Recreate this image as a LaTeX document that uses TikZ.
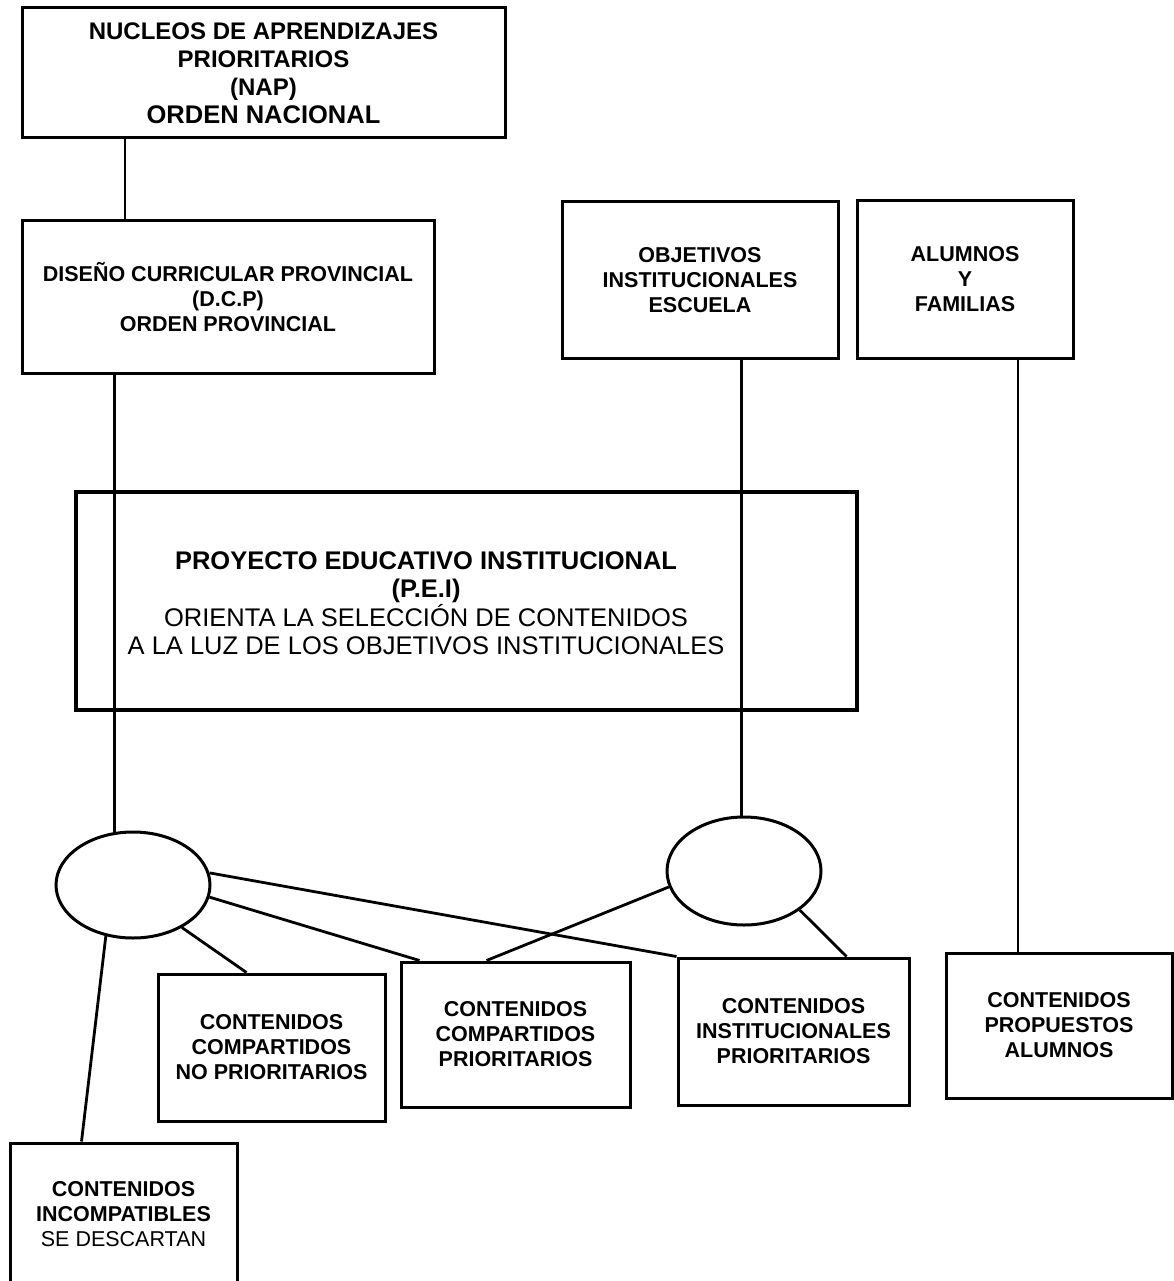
\documentclass[tikz,border=0pt]{standalone}
\usepackage{fontspec}
\setmainfont{Liberation Sans}
\usetikzlibrary{shapes.geometric}

\begin{document}
\begin{tikzpicture}[x=1pt, y=-1pt,
    box/.style={draw, line width=3pt, inner sep=0pt, align=center, font=\fontsize{21.5}{25}\selectfont\bfseries},
    hub/.style={draw, ellipse, line width=3pt, inner sep=0pt},
    link/.style={line width=2.8pt}]
                  \useasboundingbox (0,0) rectangle (1174,1281);

                  \node[box, minimum width=483pt, minimum height=130pt, font=\fontsize{24}{28}\selectfont\bfseries] (nap) at (263.5,73) {NUCLEOS DE APRENDIZAJES\\ PRIORITARIOS\\ (NAP)\\ {\fontsize{25.5}{28}\selectfont ORDEN NACIONAL}};
                  \node[box, minimum width=412pt, minimum height=152pt] (dcp) at (228,297) {DISEÑO CURRICULAR PROVINCIAL\\ (D.C.P)\\ ORDEN PROVINCIAL};
                  \node[box, minimum width=276pt, minimum height=156pt] (obj) at (700,280) {OBJETIVOS\\ INSTITUCIONALES\\ ESCUELA};
                  \node[box, minimum width=216pt, minimum height=157pt] (alu) at (965,279.5) {ALUMNOS\\ Y\\ FAMILIAS};

                  \node[box, line width=4.5pt, minimum width=781pt, minimum height=218pt] (pei) at (466.5,601) {};
                  \node[align=center, font=\fontsize{25.5}{28.5}\selectfont\bfseries] (peitxt) at (426,603) {PROYECTO EDUCATIVO INSTITUCIONAL\\ (P.E.I)\\ {\mdseries ORIENTA LA SELECCIÓN DE CONTENIDOS}\\ {\mdseries A LA LUZ DE LOS OBJETIVOS INSTITUCIONALES}};

                  \node[hub, minimum width=154pt, minimum height=106pt] (lell) at (133,885) {};
                  \node[hub, minimum width=154pt, minimum height=108pt] (rell) at (744,871) {};

                  \node[box, minimum width=227pt, minimum height=147pt] (ccnp) at (271.5,1047.5) {CONTENIDOS\\ COMPARTIDOS\\ NO PRIORITARIOS};
                  \node[box, minimum width=229pt, minimum height=145pt] (ccp) at (515.5,1034.5) {CONTENIDOS\\ COMPARTIDOS\\ PRIORITARIOS};
                  \node[box, minimum width=231pt, minimum height=147pt] (cip) at (793.5,1031.5) {CONTENIDOS\\ INSTITUCIONALES\\ PRIORITARIOS};
                  \node[box, minimum width=226pt, minimum height=145pt] (cpa) at (1059,1025.5) {CONTENIDOS\\ PROPUESTOS\\ ALUMNOS};
                  \node[box, minimum width=227pt, minimum height=142pt] (ci) at (123.5,1214) {CONTENIDOS\\ INCOMPATIBLES\\ {\mdseries SE DESCARTAN}};

                  \draw[link] ([xshift=-138.5pt]nap.south) -- ([xshift=-103pt]dcp.north);
                  \draw[link] (dcp.south -| lell.109) -- (lell.109);
                  \draw[link] (obj.south -| rell.93) -- (rell.93);
                  \draw[link] ([xshift=53pt]alu.south) -- ([xshift=-41pt]cpa.north);

                  \draw[link] (lell.-118) -- ([xshift=73pt]ci.north west);
                  \draw[link] (lell.-41) -- ([xshift=90pt]ccnp.north west);
                  \draw[link] (lell.-9) -- ([xshift=20pt]ccp.north west);
                  \draw[link] (lell.9) -- (cip.north west);

                  \draw[link] (rell.-168) -- ([xshift=87pt]ccp.north west);
                  \draw[link] (rell.-35) -- ([xshift=170pt]cip.north west);

                \end{tikzpicture}
\end{document}
